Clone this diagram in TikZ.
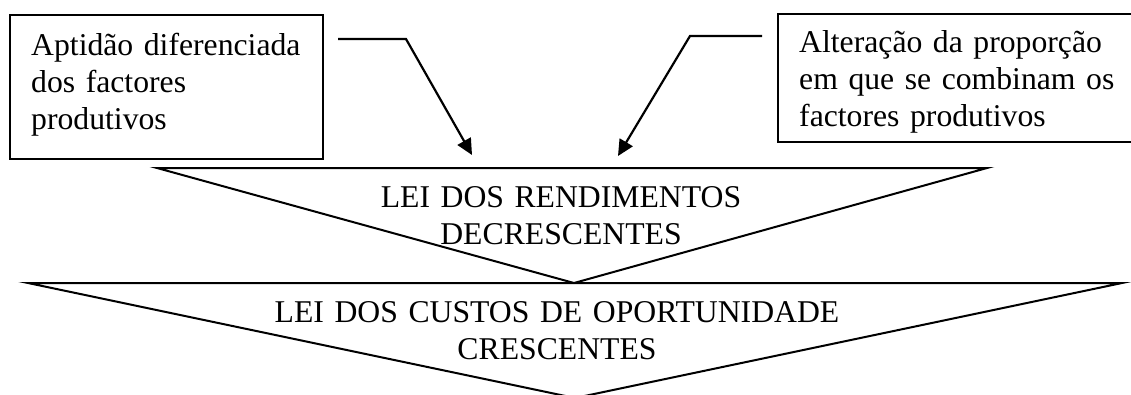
\documentclass[tikz,border=0pt]{standalone}
\usepackage{fontspec}
\setmainfont{Liberation Serif}
\usetikzlibrary{arrows.meta}
\begin{document}
\begin{tikzpicture}[x=1pt,y=-1pt,
  boxshape/.style={draw, line width=2.2pt, rectangle, inner sep=0pt, anchor=north west},
  txt/.style={font=\fontsize{31.7pt}{37.3pt}\selectfont, inner sep=0pt, text width=#1},
  txt/.default=400pt,
  tri/.style={line width=2pt, line join=miter},
  conn/.style={line width=2.2pt, -{Triangle[length=16pt,width=15pt]}}
]
\useasboundingbox (0,0) rectangle (1131,394);
\clip (0,0) rectangle (1131,394);
% boxes
\node[boxshape, minimum width=313pt, minimum height=144pt] (boxL) at (9,14) {};
\node[boxshape, minimum width=380pt, minimum height=128pt] (boxR) at (777,13) {};
\node[txt=290pt, align=left, anchor=base west] (tL) at (31,55) {Aptidão diferenciada\\dos factores\\produtivos};
\node[txt=330pt, align=left, anchor=base west] (tR) at (799,52) {Alteração da proporção\\em que se combinam os\\factores produtivos};
% triangles
\coordinate (t1a) at (157,168);
\coordinate (t1b) at (987,168);
\coordinate (t1c) at (574,283);
\coordinate (t2a) at (28,283);
\coordinate (t2b) at (1122,283);
\coordinate (t2c) at (575,398);
\draw[tri] (t1a) -- (t1b) -- (t1c) -- cycle;
\draw[tri] (t2a) -- (t2b) -- (t2c) -- cycle;
\node[txt=700pt, align=center, anchor=base] (law1) at (561,207) {LEI DOS RENDIMENTOS\\DECRESCENTES};
\node[txt=700pt, align=center, anchor=base] (law2) at (557,322) {LEI DOS CUSTOS DE OPORTUNIDADE\\CRESCENTES};
% connectors
\coordinate (aLs) at (338,39);
\coordinate (aLk) at (406,39);
\coordinate (aLt) at (472,155);
\coordinate (aRs) at (762,36);
\coordinate (aRk) at (690,36);
\coordinate (aRt) at (618,156);
\draw[conn] (aLs) -- (aLk) -- (aLt);
\draw[conn] (aRs) -- (aRk) -- (aRt);
\end{tikzpicture}
\end{document}
